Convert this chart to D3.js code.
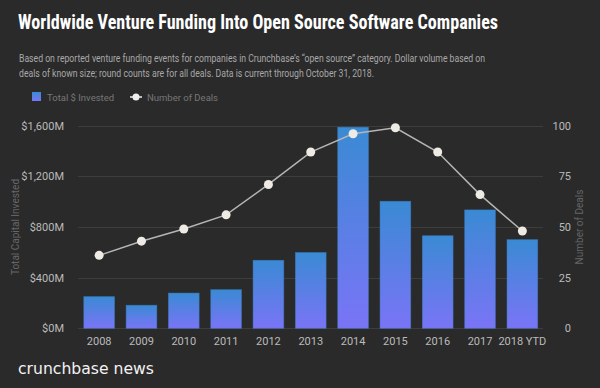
<!DOCTYPE html>
<html><head><meta charset="utf-8">
<script src="https://cdn.jsdelivr.net/npm/d3@7"></script>
<style>body{margin:0;background:#2a2a2a;}svg{display:block;}</style>
</head><body>
<script>
const years = ["2008","2009","2010","2011","2012","2013","2014","2015","2016","2017","2018 YTD"];
const invested = [250,182,278,305,537,598,1588,1003,731,935,700];
const deals = [36,43,49,56,71,87,96,99,87,66,48];
const leftTicks = [0,400,800,1200,1600];
const rightTicks = [0,25,50,75,100];

const W=600,H=388;
const svg=d3.select("body").append("svg").attr("width",W).attr("height",H).style("background","#2a2a2a");
const defs=svg.append("defs");
const g=defs.append("linearGradient").attr("id","bg").attr("x1",0).attr("y1",0).attr("x2",0).attr("y2",1);
g.append("stop").attr("offset","0%").attr("stop-color","#3a8ad4");
g.append("stop").attr("offset","100%").attr("stop-color","#7a74f6");

const font="Roboto, 'Open Sans', sans-serif";
svg.append("text").attr("x",18).attr("y",29).text("Worldwide Venture Funding Into Open Source Software Companies")
 .attr("fill","#fff").attr("font-family","'Liberation Sans Narrow', 'Roboto Condensed', Roboto, sans-serif").attr("font-weight",700).attr("font-size",19.5)
 .attr("textLength",480).attr("lengthAdjust","spacingAndGlyphs");
const sub=["Based on reported venture funding events for companies in Crunchbase’s “open source” category. Dollar volume based on",
"deals of known size; round counts are for all deals. Data is current through October 31, 2018."];
const subLen=[466,355];
sub.forEach((s,i)=>svg.append("text").attr("x",19).attr("y",62+i*14.5).text(s)
 .attr("fill","#a8a8a8").attr("font-family",font).attr("font-size",10.8)
 .attr("textLength",subLen[i]).attr("lengthAdjust","spacingAndGlyphs"));

// legend
svg.append("rect").attr("x",32).attr("y",92).attr("width",9).attr("height",9).attr("fill","url(#bg)");
svg.append("text").attr("x",47).attr("y",101).text("Total $ Invested").attr("fill","#777").attr("font-family",font).attr("font-size",9.5);
svg.append("line").attr("x1",130).attr("x2",142).attr("y1",97).attr("y2",97).attr("stroke","#eee").attr("stroke-width",1.5);
svg.append("circle").attr("cx",136).attr("cy",97).attr("r",3.5).attr("fill","#eee");
svg.append("text").attr("x",147).attr("y",101).text("Number of Deals").attr("fill","#777").attr("font-family",font).attr("font-size",9.5);

const x=d3.scaleBand().domain(years).range([78,543.5]).paddingInner(0.275).paddingOuter(0.137);
const yL=d3.scaleLinear().domain([0,1600]).range([328.3,125.7]);
const yR=d3.scaleLinear().domain([0,100]).range([328.3,125.7]);

// grid
svg.append("g").selectAll("line").data(leftTicks).join("line")
 .attr("x1",78).attr("x2",543).attr("y1",d=>Math.round(yL(d))+0.5).attr("y2",d=>Math.round(yL(d))+0.5)
 .attr("stroke","#3d3d3d").attr("stroke-width",1);

// left axis
const la=svg.append("g").attr("transform","translate(67,0)").call(d3.axisLeft(yL).tickValues(leftTicks).tickSize(0).tickFormat(d=>"$"+d3.format(",")(d)+"M"));
la.select(".domain").remove();
la.selectAll("text").attr("fill","#bbb").attr("font-family",font).attr("font-size",11).attr("dx",0);
// right axis
const ra=svg.append("g").attr("transform","translate(571,0)").call(d3.axisRight(yR).tickValues(rightTicks).tickSize(0));
ra.select(".domain").remove();
ra.selectAll("text").attr("fill","#bbb").attr("font-family",font).attr("font-size",11).attr("text-anchor","end").attr("x",0);
// x axis
const xa=svg.append("g").attr("transform","translate(0,334)").call(d3.axisBottom(x).tickSize(0));
xa.select(".domain").remove();
xa.selectAll("text").attr("fill","#bbb").attr("font-family",font).attr("font-size",11).attr("dy","0.71em");

// axis titles
svg.append("text").attr("transform","translate(19,227) rotate(-90)").attr("text-anchor","middle").text("Total Capital Invested")
 .attr("fill","#666").attr("font-family",font).attr("font-size",10);
svg.append("text").attr("transform","translate(583,227) rotate(-90)").attr("text-anchor","middle").text("Number of Deals")
 .attr("fill","#666").attr("font-family",font).attr("font-size",10);

// bars
svg.append("g").selectAll("rect").data(invested).join("rect")
 .attr("x",(d,i)=>x(years[i])).attr("width",x.bandwidth())
 .attr("y",d=>yL(d)).attr("height",d=>yL(0)-yL(d))
 .attr("fill","url(#bg)").attr("stroke","#3a7fc4").attr("stroke-opacity",0.6).attr("stroke-width",0.8);

// line
const line=d3.line().x((d,i)=>x(years[i])+x.bandwidth()/2).y(d=>yR(d));
svg.append("path").datum(deals).attr("d",line).attr("fill","none").attr("stroke","#b5b5b5").attr("stroke-width",1.5);
svg.append("g").selectAll("circle").data(deals).join("circle")
 .attr("cx",(d,i)=>x(years[i])+x.bandwidth()/2).attr("cy",d=>yR(d)).attr("r",4.5).attr("fill","#eeebe5");

// logo
svg.append("text").attr("x",18).attr("y",374).text("crunchbase news").attr("fill","#f2f2f2")
 .attr("font-family","'DejaVu Sans', sans-serif").attr("font-weight",500).attr("font-size",16.5)
 .attr("textLength",136).attr("lengthAdjust","spacingAndGlyphs");
</script>
</body></html>
